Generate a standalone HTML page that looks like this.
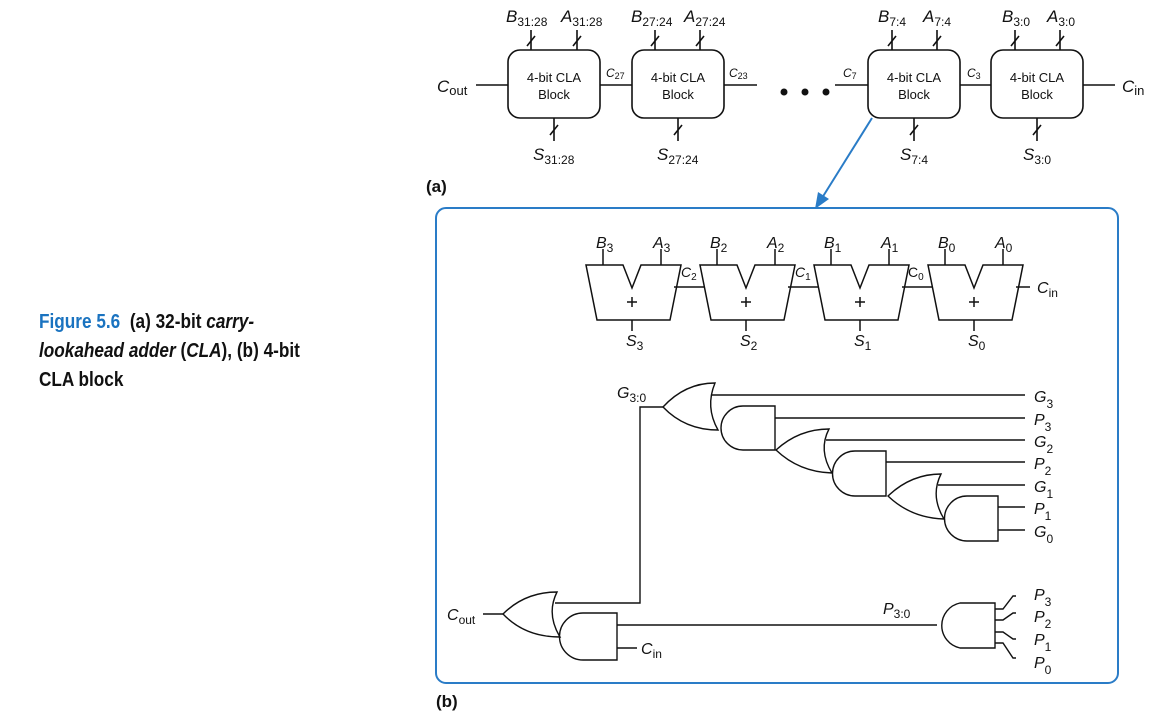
<!DOCTYPE html>
<html><head><meta charset="utf-8"><style>
html,body{margin:0;padding:0;background:#fff;}
.cap{position:absolute;left:39px;top:308px;width:300px;font-family:"Liberation Sans Narrow","Liberation Sans",sans-serif;font-weight:bold;font-size:20px;line-height:29px;color:#111;transform:scaleX(0.86);transform-origin:left top;white-space:nowrap;}
.cap .f{color:#1a73c0;}
</style></head><body>
<div class="cap"><span class="f">Figure 5.6</span>&nbsp; (a) 32-bit <i>carry-</i><br><i>lookahead adder</i> (<i>CLA</i>), (b) 4-bit<br>CLA block</div>
<svg width="1156" height="722" style="position:absolute;left:0;top:0" xmlns="http://www.w3.org/2000/svg" font-family="Liberation Sans, sans-serif">
<g stroke="#111" stroke-width="1.6" fill="none">
<rect x="508" y="50" width="92" height="68" rx="12"/>
<rect x="632" y="50" width="92" height="68" rx="12"/>
<rect x="868" y="50" width="92" height="68" rx="12"/>
<rect x="991" y="50" width="92" height="68" rx="12"/>
<path d="M476 85H508M600 85H632M724 85H757M835 85H868M960 85H991M1083 85H1115"/>
<path d="M531 30V50M577 30V50M655 30V50M700 30V50M892 30V50M937 30V50M1015 30V50M1060 30V50"/>
<path d="M527 46L535 36M573 46L581 36M651 46L659 36M696 46L704 36M888 46L896 36M933 46L941 36M1011 46L1019 36M1056 46L1064 36"/>
<path d="M554 118V141M678 118V141M914 118V141M1037 118V141"/>
<path d="M550 135L558 125M674 135L682 125M910 135L918 125M1033 135L1041 125"/>
</g>
<g fill="#111"><circle cx="784" cy="92" r="3.5"/><circle cx="805" cy="92" r="3.5"/><circle cx="826" cy="92" r="3.5"/></g>
<g font-size="13" text-anchor="middle" fill="#111">
<text x="554" y="82">4-bit CLA</text><text x="554" y="99">Block</text>
<text x="678" y="82">4-bit CLA</text><text x="678" y="99">Block</text>
<text x="914" y="82">4-bit CLA</text><text x="914" y="99">Block</text>
<text x="1037" y="82">4-bit CLA</text><text x="1037" y="99">Block</text>
</g>
<g fill="#111" font-size="17" font-style="italic">
<text x="506" y="22">B<tspan font-size="12" font-style="normal" dy="4">31:28</tspan></text>
<text x="561" y="22">A<tspan font-size="12" font-style="normal" dy="4">31:28</tspan></text>
<text x="631" y="22">B<tspan font-size="12" font-style="normal" dy="4">27:24</tspan></text>
<text x="684" y="22">A<tspan font-size="12" font-style="normal" dy="4">27:24</tspan></text>
<text x="878" y="22">B<tspan font-size="12" font-style="normal" dy="4">7:4</tspan></text>
<text x="923" y="22">A<tspan font-size="12" font-style="normal" dy="4">7:4</tspan></text>
<text x="1002" y="22">B<tspan font-size="12" font-style="normal" dy="4">3:0</tspan></text>
<text x="1047" y="22">A<tspan font-size="12" font-style="normal" dy="4">3:0</tspan></text>
<text x="533" y="160">S<tspan font-size="12" font-style="normal" dy="4">31:28</tspan></text>
<text x="657" y="160">S<tspan font-size="12" font-style="normal" dy="4">27:24</tspan></text>
<text x="900" y="160">S<tspan font-size="12" font-style="normal" dy="4">7:4</tspan></text>
<text x="1023" y="160">S<tspan font-size="12" font-style="normal" dy="4">3:0</tspan></text>
<text x="437" y="92">C<tspan font-size="13" font-style="normal" dy="3">out</tspan></text>
<text x="1122" y="92">C<tspan font-size="13" font-style="normal" dy="3">in</tspan></text>
<text x="606" y="77" font-size="12">C<tspan font-size="9" font-style="normal" dy="2">27</tspan></text>
<text x="729" y="77" font-size="12">C<tspan font-size="9" font-style="normal" dy="2">23</tspan></text>
<text x="843" y="77" font-size="12">C<tspan font-size="9" font-style="normal" dy="2">7</tspan></text>
<text x="967" y="77" font-size="12">C<tspan font-size="9" font-style="normal" dy="2">3</tspan></text>
</g>
<text x="426" y="192" font-size="17" font-weight="bold" fill="#111">(a)</text>
<text x="436" y="707" font-size="17" font-weight="bold" fill="#111">(b)</text>
<rect x="436" y="208" width="682" height="475" rx="10" fill="none" stroke="#2a7cc7" stroke-width="2"/>
<path d="M872 118L822 198" stroke="#2a7cc7" stroke-width="2"/>
<path d="M815 209L818 192L829 199Z" fill="#2a7cc7"/>
<g stroke="#111" stroke-width="1.5" fill="none">
<g id="ad">
<path d="M586 265H623L632 288L641 265H681L670 320H597Z"/>
<path d="M603 249V265M661 249V265M632 320V331M627 302H637M632 297V307"/>
</g>
<use href="#ad" x="114"/><use href="#ad" x="228"/><use href="#ad" x="342"/>
<path d="M674 287H705M788 287H819M902 287H933M1016 287H1030"/>
</g>
<g fill="#111" font-size="16" font-style="italic">
<text x="596" y="248">B<tspan font-size="12" font-style="normal" dy="4">3</tspan></text>
<text x="653" y="248">A<tspan font-size="12" font-style="normal" dy="4">3</tspan></text>
<text x="710" y="248">B<tspan font-size="12" font-style="normal" dy="4">2</tspan></text>
<text x="767" y="248">A<tspan font-size="12" font-style="normal" dy="4">2</tspan></text>
<text x="824" y="248">B<tspan font-size="12" font-style="normal" dy="4">1</tspan></text>
<text x="881" y="248">A<tspan font-size="12" font-style="normal" dy="4">1</tspan></text>
<text x="938" y="248">B<tspan font-size="12" font-style="normal" dy="4">0</tspan></text>
<text x="995" y="248">A<tspan font-size="12" font-style="normal" dy="4">0</tspan></text>
<text x="626" y="346">S<tspan font-size="12" font-style="normal" dy="4">3</tspan></text>
<text x="740" y="346">S<tspan font-size="12" font-style="normal" dy="4">2</tspan></text>
<text x="854" y="346">S<tspan font-size="12" font-style="normal" dy="4">1</tspan></text>
<text x="968" y="346">S<tspan font-size="12" font-style="normal" dy="4">0</tspan></text>
<text x="681" y="277" font-size="14">C<tspan font-size="10" font-style="normal" dy="3">2</tspan></text>
<text x="795" y="277" font-size="14">C<tspan font-size="10" font-style="normal" dy="3">1</tspan></text>
<text x="908" y="277" font-size="14" font-style="normal">C<tspan font-size="10" dy="3">0</tspan></text>
<text x="1037" y="293">C<tspan font-size="12" font-style="normal" dy="4">in</tspan></text>
</g>
<g stroke="#111" stroke-width="1.4" fill="none">
<path d="M715 383Q685 383 663 407Q685 430 718 430Q705 407 715 383Z"/>
<path d="M775 406H743A22 22 0 0 0 743 450H775Z"/>
<path d="M829 429Q799 429 776 450Q799 472 832 473Q818 450 829 429Z"/>
<path d="M886 451H855A22 22 0 0 0 855 496H886Z"/>
<path d="M941 474Q911 474 888 496Q911 518 944 519Q930 496 941 474Z"/>
<path d="M998 496H967A22 22 0 0 0 967 541H998Z"/>
<path d="M711 395H1025M775 418H1025M826 440H1025M886 462H1025M938 485H1025M998 507H1025M998 530H1025"/>
<path d="M663 407H640V603H555"/>
<path d="M557 592Q525 592 503 614Q525 637 560 637Q546 614 557 592Z"/>
<path d="M483 614H503"/>
<path d="M617 613H583A23 23 0 0 0 583 660H617Z"/>
<path d="M617 625H937M617 648H637"/>
<path d="M995 603H960A23 23 0 0 0 960 648H995Z"/>
<path d="M995 609H1003L1013 596H1016M995 620H1003L1013 613H1016M995 632H1003L1013 639H1016M995 643H1003L1013 658H1016"/>
</g>
<g fill="#111" font-size="16" font-style="italic">
<text x="617" y="398">G<tspan font-size="12" font-style="normal" dy="4">3:0</tspan></text>
<text x="1034" y="402">G<tspan font-size="12" font-style="normal" dy="6">3</tspan></text>
<text x="1034" y="425">P<tspan font-size="12" font-style="normal" dy="6">3</tspan></text>
<text x="1034" y="447">G<tspan font-size="12" font-style="normal" dy="6">2</tspan></text>
<text x="1034" y="469">P<tspan font-size="12" font-style="normal" dy="6">2</tspan></text>
<text x="1034" y="492">G<tspan font-size="12" font-style="normal" dy="6">1</tspan></text>
<text x="1034" y="514">P<tspan font-size="12" font-style="normal" dy="6">1</tspan></text>
<text x="1034" y="537">G<tspan font-size="12" font-style="normal" dy="6">0</tspan></text>
<text x="1034" y="600">P<tspan font-size="12" font-style="normal" dy="6">3</tspan></text>
<text x="1034" y="622">P<tspan font-size="12" font-style="normal" dy="6">2</tspan></text>
<text x="1034" y="645">P<tspan font-size="12" font-style="normal" dy="6">1</tspan></text>
<text x="1034" y="668">P<tspan font-size="12" font-style="normal" dy="6">0</tspan></text>
<text x="447" y="620">C<tspan font-size="12" font-style="normal" dy="4">out</tspan></text>
<text x="641" y="654">C<tspan font-size="12" font-style="normal" dy="4">in</tspan></text>
<text x="883" y="614">P<tspan font-size="12" font-style="normal" dy="4">3:0</tspan></text>
</g>
</svg>
</body></html>
